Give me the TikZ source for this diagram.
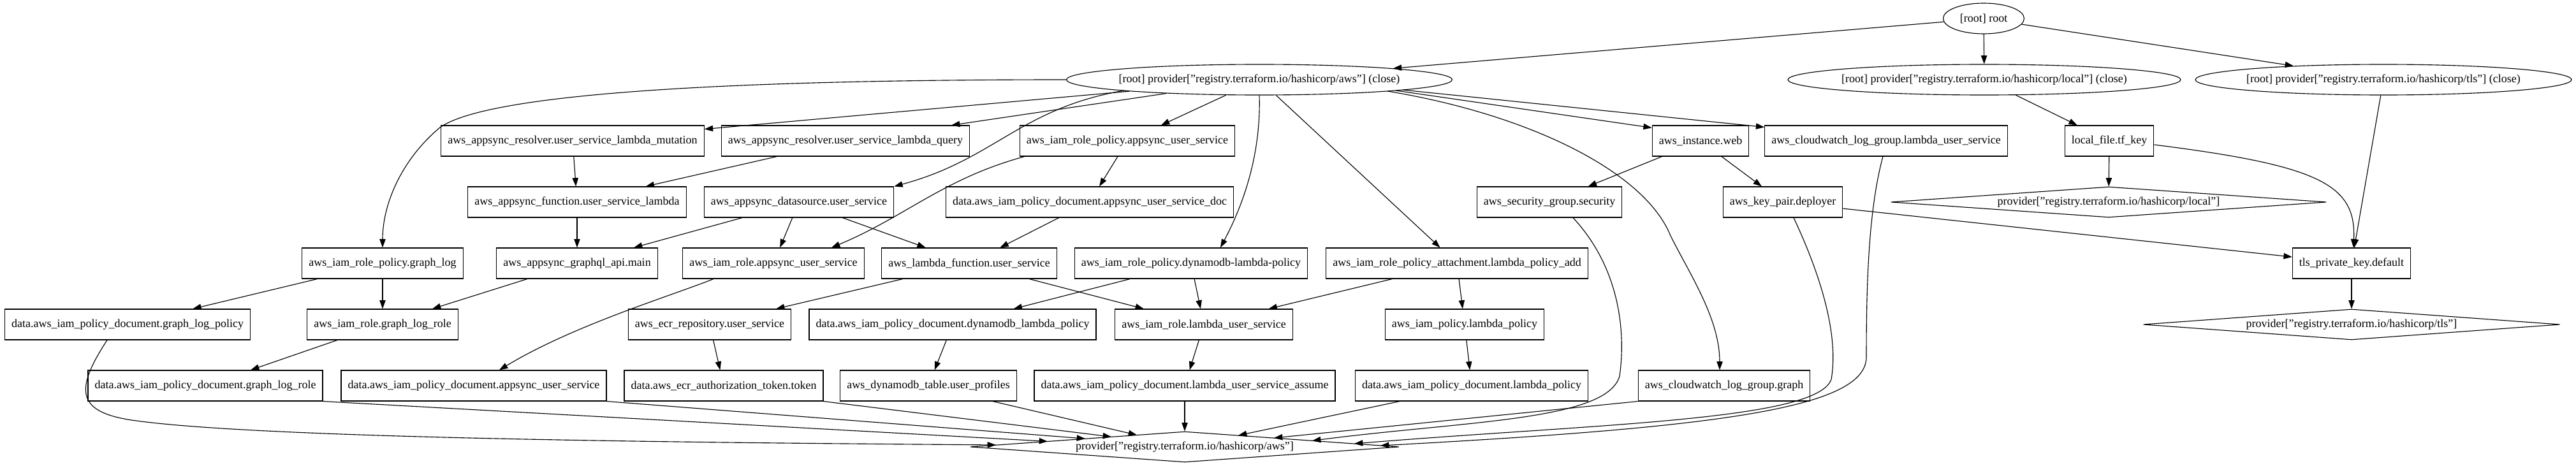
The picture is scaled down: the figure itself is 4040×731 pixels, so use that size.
\documentclass[tikz,border=0pt]{standalone}
\usepackage{fontspec}
\setmainfont{Liberation Serif}
\usetikzlibrary{arrows.meta,shapes.geometric,calc}
\newcommand\gvfont{\fontsize{13.5pt}{16pt}\selectfont}
\begin{document}
\begin{tikzpicture}[x=0.75pt,y=-0.75pt,
  box/.style={draw, rectangle, line width=0.85pt, minimum height=36pt, inner xsep=7.9pt, inner ysep=0pt, font=\gvfont},
  ell/.style={draw, ellipse, line width=0.85pt, minimum height=36pt, inner xsep=-40pt, inner ysep=0pt, font=\gvfont},
  dia/.style={draw, diamond, aspect=14, line width=0.85pt, minimum height=36pt, inner xsep=-60pt, inner ysep=-3pt, font=\gvfont},
  conn/.style={line width=0.85pt, -{Triangle[length=10pt,width=7pt]}}]
\useasboundingbox[fill=white] (0,0) rectangle (4040,731);

% row A / B
\node[ell, minimum width=95.25pt] (root) at (3111,29) {[root] root};
\node[ell, minimum width=453.75pt] (paws) at (1975,125) {[root] provider["registry.terraform.io/hashicorp/aws"] (close)};
\node[ell, minimum width=462pt] (ploc) at (3112,125) {[root] provider["registry.terraform.io/hashicorp/local"] (close)};
\node[ell, minimum width=442.5pt] (ptls) at (3738,125) {[root] provider["registry.terraform.io/hashicorp/tls"] (close)};

% row C
\node[box] (mut) at (898,221) {aws\_appsync\_resolver.user\_service\_lambda\_mutation};
\node[box] (qry) at (1326,221) {aws\_appsync\_resolver.user\_service\_lambda\_query};
\node[box] (rpaus) at (1768,221) {aws\_iam\_role\_policy.appsync\_user\_service};
\node[box] (web) at (2667,221) {aws\_instance.web};
\node[box] (cwl) at (2958,221) {aws\_cloudwatch\_log\_group.lambda\_user\_service};
\node[box] (tfkey) at (3308,221) {local\_file.tf\_key};

% row D
\node[box] (fn) at (905,317) {aws\_appsync\_function.user\_service\_lambda};
\node[box] (ds) at (1253,317) {aws\_appsync\_datasource.user\_service};
\node[box] (pdoc) at (1709,317) {data.aws\_iam\_policy\_document.appsync\_user\_service\_doc};
\node[box] (sg) at (2430,317) {aws\_security\_group.security};
\node[box] (kp) at (2796,317) {aws\_key\_pair.deployer};
\node[dia, minimum width=512pt] (dloc) at (3307,317) {provider["registry.terraform.io/hashicorp/local"]};

% row E
\node[box] (rpgl) at (600,413) {aws\_iam\_role\_policy.graph\_log};
\node[box] (api) at (905,413) {aws\_appsync\_graphql\_api.main};
\node[box] (raus) at (1213,413) {aws\_iam\_role.appsync\_user\_service};
\node[box] (lf) at (1520,413) {aws\_lambda\_function.user\_service};
\node[box] (rpdyn) at (1868,413) {aws\_iam\_role\_policy.dynamodb-lambda-policy};
\node[box] (att) at (2285,413) {aws\_iam\_role\_policy\_attachment.lambda\_policy\_add};
\node[box] (tlskey) at (3688,413) {tls\_private\_key.default};

% row F
\node[box] (dglp) at (200,509) {data.aws\_iam\_policy\_document.graph\_log\_policy};
\node[box] (rglr) at (600,509) {aws\_iam\_role.graph\_log\_role};
\node[box] (ecr) at (1113,509) {aws\_ecr\_repository.user\_service};
\node[box] (ddyn) at (1494,509) {data.aws\_iam\_policy\_document.dynamodb\_lambda\_policy};
\node[box] (rlus) at (1888,509) {aws\_iam\_role.lambda\_user\_service};
\node[box] (plp) at (2297,509) {aws\_iam\_policy.lambda\_policy};
\node[dia, minimum width=490pt] (dtls) at (3688,509) {provider["registry.terraform.io/hashicorp/tls"]};

% row G
\node[box] (dglr) at (322,605) {data.aws\_iam\_policy\_document.graph\_log\_role};
\node[box] (daus) at (743,605) {data.aws\_iam\_policy\_document.appsync\_user\_service};
\node[box] (tok) at (1135,605) {data.aws\_ecr\_authorization\_token.token};
\node[box] (dyt) at (1456,605) {aws\_dynamodb\_table.user\_profiles};
\node[box] (dlusa) at (1858,605) {data.aws\_iam\_policy\_document.lambda\_user\_service\_assume};
\node[box] (dlp) at (2308,605) {data.aws\_iam\_policy\_document.lambda\_policy};
\node[box] (cwg) at (2704,605) {aws\_cloudwatch\_log\_group.graph};

% row H
\node[dia, minimum width=504pt] (daws) at (1858,701) {provider["registry.terraform.io/hashicorp/aws"]};

% edges from root
\draw[conn] (root) -- (paws);
\draw[conn] (root) -- (ploc);
\draw[conn] (root) -- (ptls);

% edges from aws close
\draw[conn] (paws) -- (mut);
\draw[conn] (paws) -- (qry);
\draw[conn] (paws) -- (rpaus);
\draw[conn] ($(paws)+(-212,17)$) .. controls (1600,170) and (1560,250) .. (ds.north east);
\draw[conn] (paws.west) .. controls (1100,125) and (760,150) .. (690,200) .. controls (630,250) and (600,320) .. (rpgl.north);
\draw[conn] (paws.south) .. controls (1978,250) and (1945,330) .. ($(rpdyn.north)+(46,0)$);
\draw[conn] (paws) -- (att);
\draw[conn] ($(paws)+(201,18)$) .. controls (2400,180) and (2580,270) .. (2620,370) .. controls (2650,430) and (2697,500) .. ($(cwg.north)+(-7,0)$);
\draw[conn] ($(paws)+(214,17)$) -- ($(web.north west)+(0,4)$);
\draw[conn] ($(paws)+(225,16)$) -- ($(cwl.north west)+(0,3)$);

% middle edges
\draw[conn] (mut) -- (fn);
\draw[conn] (qry) -- (fn);
\draw[conn] (fn) -- (api);
\draw[conn] (ds) -- (api);
\draw[conn] (ds) -- (raus);
\draw[conn] (ds) -- (lf);
\draw[conn] (rpaus) -- (pdoc);
\draw[conn] ($(rpaus.south west)+(8,0)$) .. controls (1480,280) and (1420,340) .. ($(raus.north)+(91,0)$);
\draw[conn] (pdoc) -- (lf);
\draw[conn] (rpgl) -- (dglp);
\draw[conn] (rpgl) -- (rglr);
\draw[conn] (api) -- (rglr);
\draw[conn] ($(raus.south)+(-94,0)$) .. controls (1050,465) and (900,510) .. ($(daus.north)+(40,0)$);
\draw[conn] (lf) -- (ecr);
\draw[conn] (lf) -- (rlus);
\draw[conn] (rpdyn) -- (ddyn);
\draw[conn] (rpdyn) -- (rlus);
\draw[conn] (att) -- (rlus);
\draw[conn] (att) -- (plp);
\draw[conn] (rglr) -- (dglr);
\draw[conn] (ecr) -- (tok);
\draw[conn] (ddyn) -- (dyt);
\draw[conn] (rlus) -- (dlusa);
\draw[conn] (plp) -- (dlp);
\draw[conn] (web) -- (sg);
\draw[conn] (web) -- (kp);
\draw[conn] (kp) -- (tlskey);
\draw[conn] (tfkey) -- (dloc);
\draw[conn] ($(tfkey.east)+(0,6)$) .. controls (3640,260) and (3695,290) .. ($(tlskey.north)+(3,0)$);
\draw[conn] (ptls) -- (tlskey);
\draw[conn] (tlskey) -- (dtls);
\draw[conn] (ploc) -- (tfkey);

% edges into provider aws
\draw[conn] ($(dglp.south)+(-32,0)$) .. controls (118,610) and (120,644) .. (200,658) .. controls (400,690) and (1200,695) .. ($(daws)+(-296,-3)$);
\draw[conn] (dglr.south east) -- ($(daws)+(-215,-8.6)$);
\draw[conn] (daus.south east) -- ($(daws)+(-156,-12.9)$);
\draw[conn] (tok.south east) -- ($(daws)+(-115,-15.8)$);
\draw[conn] ($(dyt.south)+(101,0)$) -- ($(daws)+(-75,-18.6)$);
\draw[conn] (dlusa) -- (daws);
\draw[conn] ($(dlp.south)+(-113,0)$) -- ($(daws)+(84,-18)$);
\draw[conn] (cwg.south west) -- ($(daws)+(140,-14)$);
\draw[conn] ($(sg.south)+(37,0)$) .. controls (2540,420) and (2550,520) .. (2540,590) .. controls (2520,660) and (2300,660) .. ($(daws)+(200,-9.7)$);
\draw[conn] ($(kp.south)+(17,0)$) .. controls (2850,420) and (2885,520) .. (2872,595) .. controls (2850,660) and (2500,665) .. ($(daws)+(266,-5)$);
\draw[conn] ($(cwl.south)+(-5,0)$) .. controls (2930,330) and (2927,450) .. (2927,560) .. controls (2927,640) and (2700,670) .. ($(daws)+(307,-2)$);
\end{tikzpicture}
\end{document}
